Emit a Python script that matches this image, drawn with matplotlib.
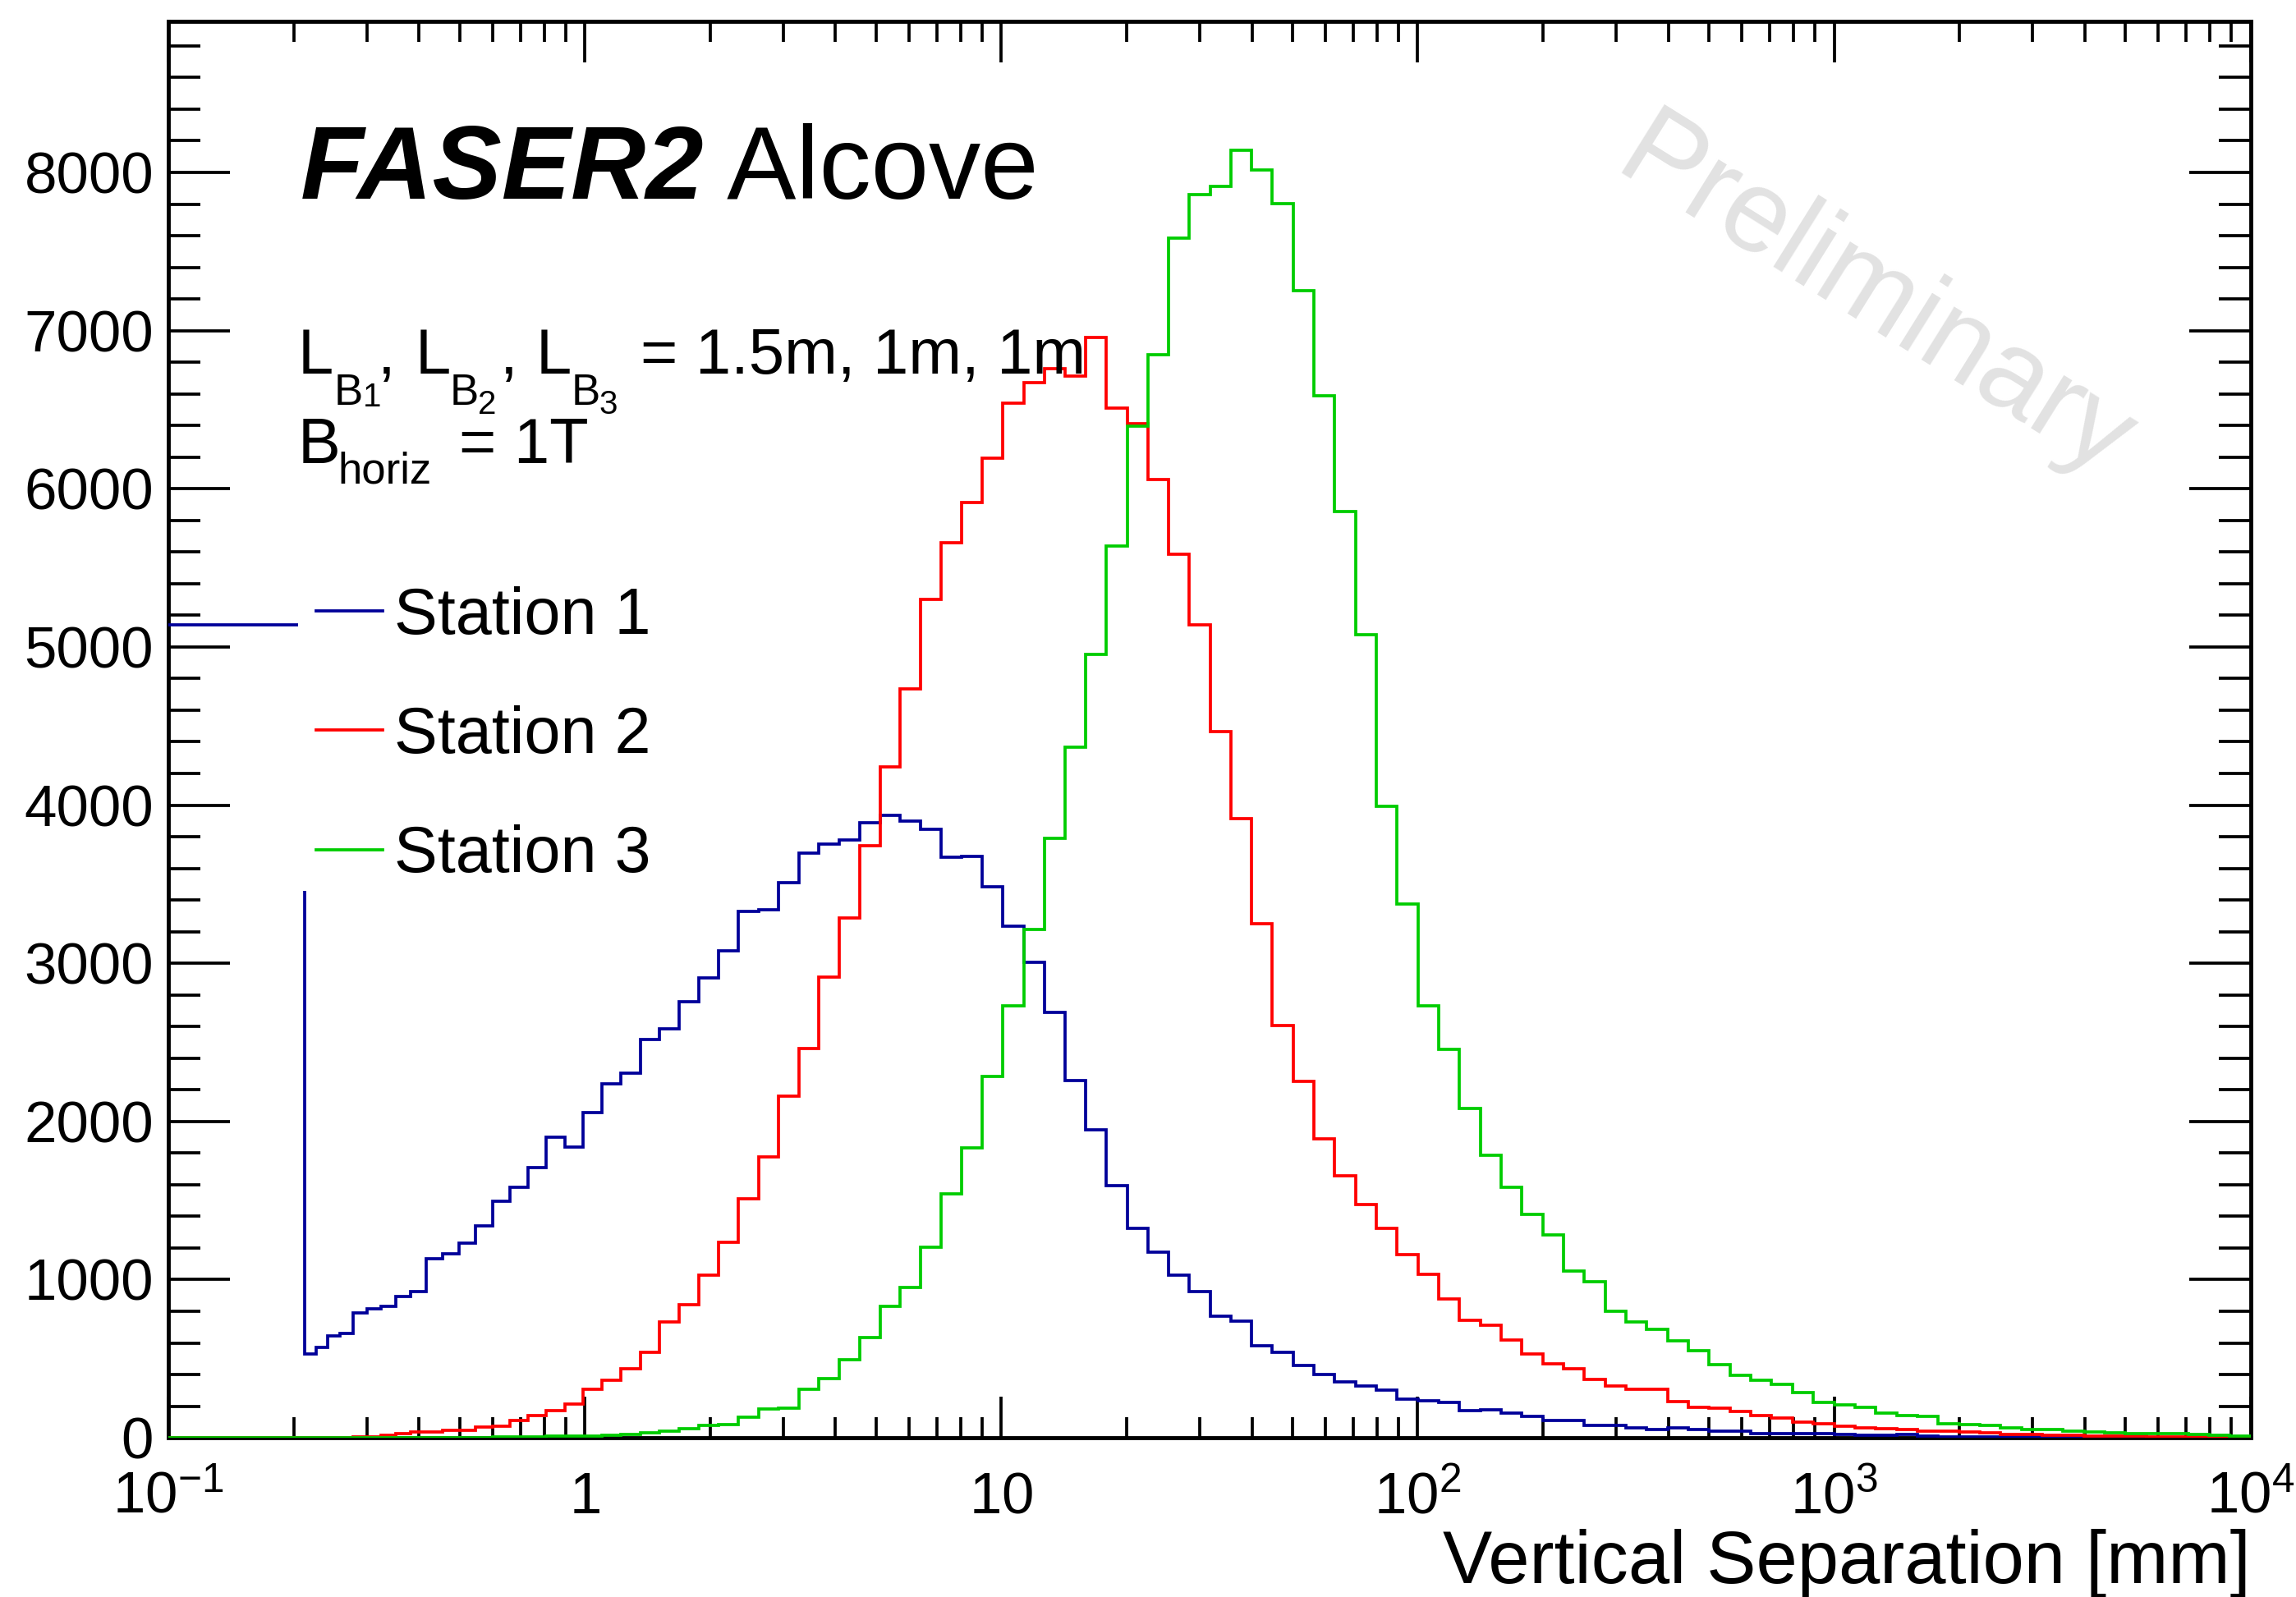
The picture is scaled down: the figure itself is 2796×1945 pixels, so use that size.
"""FASER2 Alcove: vertical separation per tracking station (ROOT-style histogram)."""

import numpy as np
import matplotlib

matplotlib.use("Agg")
import matplotlib.pyplot as plt
from matplotlib.patches import Rectangle
from matplotlib.ticker import FixedLocator, MultipleLocator, NullFormatter

plt.rcParams["font.family"] = ["Liberation Sans", "DejaVu Sans"]
plt.rcParams["mathtext.fontset"] = "custom"
plt.rcParams["mathtext.rm"] = "Liberation Sans"
plt.rcParams["mathtext.it"] = "Liberation Sans:italic"
plt.rcParams["mathtext.bf"] = "Liberation Sans:bold"

# binning: one wide first bin from 0.1, then bins uniform in log10(x - 0.1)
X_MIN, X_MAX = 0.1, 1.0e4
BIN_OFFSET = 0.1
LOG_FIRST, LOG_STEP, N_LOG_EDGES = -0.95, 0.05, 99

# bin contents (first value = wide bin 0.1 .. 0.212)
station1 = [
    5140,
    532, 570, 644, 660, 791, 814, 832, 892, 926, 1133,
    1163, 1230, 1338, 1494, 1584, 1710, 1899, 1838, 2057, 2237,
    2304, 2518, 2588, 2755, 2908, 3077, 3327, 3337, 3508, 3699,
    3753, 3781, 3887, 3935, 3900, 3849, 3668, 3676, 3482, 3236,
    3004, 2691, 2257, 1947, 1593, 1325, 1175, 1028, 925, 767,
    736, 581, 541, 456, 402, 356, 326, 302, 247, 235,
    224, 170, 175, 154, 136, 108, 108, 78, 78, 61,
    50, 61, 50, 43, 43, 27, 27, 27, 27, 20,
    15, 15, 20, 13, 8, 8, 6, 6, 5, 5,
    4, 4, 3, 3, 2, 2, 2, 1, 1,
]
station2 = [
    3,
    2, 2, 3, 3, 4, 6, 14, 28, 37, 37,
    45, 45, 66, 75, 112, 142, 172, 215, 308, 362,
    439, 538, 730, 842, 1028, 1235, 1511, 1777, 2159, 2459,
    2911, 3285, 3745, 4243, 4737, 5301, 5658, 5912, 6195, 6540,
    6671, 6761, 6710, 6958, 6508, 6412, 6060, 5584, 5140, 4466,
    3915, 3249, 2604, 2252, 1890, 1654, 1475, 1322, 1160, 1035,
    877, 743, 710, 618, 530, 467, 437, 367, 330, 309,
    309, 228, 194, 187, 168, 140, 124, 101, 89, 73,
    62, 57, 50, 43, 43, 36, 31, 22, 20, 15,
    14, 12, 10, 9, 8, 7, 6, 6, 5,
]
station3 = [
    0,
    0, 0, 0, 0, 1, 1, 1, 1, 2, 2,
    2, 3, 3, 4, 5, 6, 9, 11, 13, 18,
    23, 32, 40, 60, 78, 82, 128, 181, 189, 305,
    375, 496, 633, 832, 950, 1206, 1542, 1834, 2286, 2733,
    3216, 3792, 4365, 4952, 5637, 6397, 6850, 7584, 7858, 7911,
    8141, 8013, 7805, 7250, 6589, 5858, 5078, 3990, 3375, 2732,
    2458, 2083, 1786, 1582, 1410, 1283, 1056, 989, 801, 731,
    687, 611, 553, 465, 395, 363, 337, 286, 224, 210,
    194, 154, 140, 136, 89, 85, 78, 61, 55, 50,
    43, 36, 31, 27, 27, 24, 20, 15, 13,
]

labels = ["Station 1", "Station 2", "Station 3"]
colors = ["#000099", "#ff0000", "#00cc00"]

x_ticks = [0.1, 1, 10, 100, 1000, 10000]
x_tick_labels = [r"$\mathregular{10^{-1}}$", r"$\mathregular{1}$", r"$\mathregular{10}$",
                 r"$\mathregular{10^{2}}$", r"$\mathregular{10^{3}}$", r"$\mathregular{10^{4}}$"]

# ROOT-like latex lines, piece by piece: (text, size, x, baseline y) in axes fractions
MAIN, SUB, SUBSUB = 56, 38, 29
setup_text = [
    ("L", MAIN, 0.0622, 0.7513), ("B", SUB, 0.0796, 0.7293), ("1", SUBSUB, 0.0933, 0.7281),
    (",", MAIN, 0.1007, 0.7513),
    ("L", MAIN, 0.1184, 0.7513), ("B", SUB, 0.1351, 0.7293), ("2", SUBSUB, 0.1486, 0.7228),
    (",", MAIN, 0.1593, 0.7513),
    ("L", MAIN, 0.1765, 0.7513), ("B", SUB, 0.1936, 0.7293), ("3", SUBSUB, 0.2069, 0.7228),
    ("= 1.5m, 1m, 1m", MAIN, 0.2267, 0.7513),
    ("B", MAIN, 0.0622, 0.6881), ("horiz", SUB, 0.0814, 0.6742), ("= 1T", MAIN, 0.1396, 0.6881),
]

log_edges = BIN_OFFSET + 10.0 ** (LOG_FIRST + LOG_STEP * np.arange(N_LOG_EDGES))
edges = np.concatenate([[X_MIN], log_edges, [X_MAX]])

fig = plt.figure(figsize=(27.96, 19.45), dpi=100)
ax = fig.add_axes([0.07335, 0.09969, 0.90684, 0.88694])

handles = []
for vals, lab, col in zip([station1, station2, station3], labels, colors):
    h = ax.stairs(vals, edges, baseline=None, color=col, linewidth=2.7, label=lab, zorder=3)
    handles.append(h)

ax.set_xscale("log")
ax.set_xlim(X_MIN, X_MAX)
ax.set_ylim(0, 8955)

ax.xaxis.set_major_locator(FixedLocator(x_ticks))
ax.set_xticklabels(x_tick_labels)
ax.xaxis.set_minor_locator(FixedLocator(
    [m * d for d in [0.1, 1, 10, 100, 1000] for m in range(2, 10)]))
ax.xaxis.set_minor_formatter(NullFormatter())
ax.yaxis.set_major_locator(MultipleLocator(1000))
ax.yaxis.set_minor_locator(MultipleLocator(200))
ax.set_yticks(range(0, 9000, 1000))

ax.tick_params(which="both", direction="in", top=True, right=True, width=2.7, colors="black")
ax.tick_params(axis="y", which="major", length=54, labelsize=51, pad=13)
ax.tick_params(axis="y", which="minor", length=28)
ax.tick_params(axis="x", which="major", length=36, labelsize=51, pad=66)
ax.tick_params(axis="x", which="minor", length=18)
for lbl in ax.get_xticklabels():
    lbl.set_verticalalignment("baseline")
for sp in ax.spines.values():
    sp.set_linewidth(3.5)

ax.set_xlabel("Vertical Separation [mm]", fontsize=65, loc="right")
ax.xaxis.label.set_verticalalignment("baseline")
ax.xaxis.set_label_coords(1.0, -0.1025)

t1 = ax.text(0.0633, 0.8748, "FASER2", transform=ax.transAxes, fontsize=91,
             fontweight="bold", fontstyle="italic", va="baseline", ha="left")
ax.annotate(" Alcove", xy=(1, 0), xycoords=t1, fontsize=91, va="bottom", ha="left")

for txt, size, x, y in setup_text:
    ax.text(x, y, txt, transform=ax.transAxes, fontsize=size, va="baseline", ha="left")

ax.text(0.6929, 0.8935, "Preliminary", transform=ax.transAxes, fontsize=102,
        color="#e2e2e2", rotation=-32, rotation_mode="anchor",
        va="baseline", ha="left", zorder=1)

# opaque legend box (ROOT TLegend fill) hides the histograms behind it
ax.add_patch(Rectangle((0.0623, 0.3861), 0.2267, 0.2522, transform=ax.transAxes,
                       facecolor="white", edgecolor="none", zorder=4))
ax.legend(handles=handles, loc="center left", bbox_to_anchor=(0.0709, 0.4953),
          borderaxespad=0, borderpad=0, frameon=False, fontsize=57,
          handlelength=1.02, handletextpad=0.18, labelspacing=0.888)

fig.savefig("out.png", dpi=100, facecolor="white")
